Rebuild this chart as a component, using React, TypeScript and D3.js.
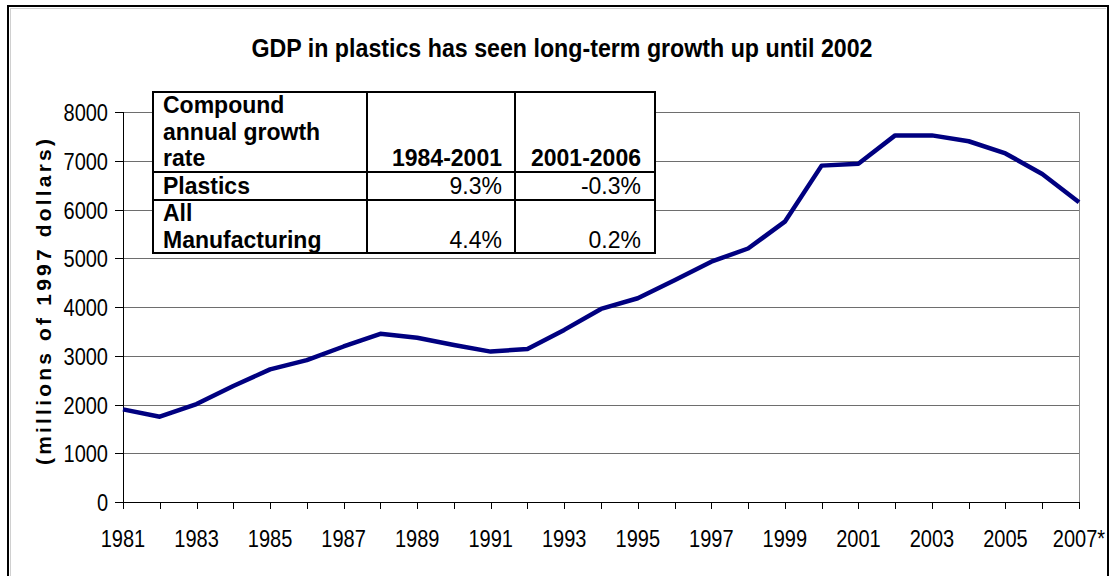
import React from "react";
import * as d3 from "d3";

const years = [1981,1982,1983,1984,1985,1986,1987,1988,1989,1990,1991,1992,1993,1994,1995,1996,1997,1998,1999,2000,2001,2002,2003,2004,2005,2006,2007];
const gdp = [1900,1750,2010,2380,2720,2910,3190,3450,3370,3220,3085,3140,3530,3960,4180,4550,4930,5200,5750,6900,6940,7520,7520,7400,7150,6730,6150];
const yTicks = [0,1000,2000,3000,4000,5000,6000,7000,8000];
const labelYears = [1981,1983,1985,1987,1989,1991,1993,1995,1997,1999,2001,2003,2005,2007];
const labelTexts = ["1981","1983","1985","1987","1989","1991","1993","1995","1997","1999","2001","2003","2005","2007*"];
const title = "GDP in plastics has seen long-term growth up until 2002";
const yTitle = "(millions of 1997 dollars)";
const headerLines = ["Compound", "annual growth", "rate"];
const periods = ["1984-2001", "2001-2006"];
const rowLabels = [["Plastics"], ["All", "Manufacturing"]];
const rowValues = [["9.3%", "-0.3%"], ["4.4%", "0.2%"]];

const FONT = "'Liberation Sans', Arial, sans-serif";

export default function App() {
  const W = 1114, H = 576;
  const x = d3.scaleLinear().domain([1981, 2007]).range([123, 1079]);
  const y = d3.scaleLinear().domain([0, 8000]).range([502, 112]);
  const line = d3.line<number>().x((_, i) => x(years[i])).y((d) => y(d));

  // table geometry
  const tL = 153, tC1 = 367, tC2 = 515, tR = 655;
  const tTop = 92, tH1 = 172, tH2 = 200, tBot = 253;

  const tx = (px: number, py: number, s: string, anchor: string, bold: boolean, size: number, sx: number, key?: any) => (
    <text key={key} transform={`translate(${px},${py}) scale(${sx},1)`} textAnchor={anchor} fontSize={size}
      fontWeight={bold ? "bold" : "normal"} fontFamily={FONT} fill="#000">{s}</text>
  );
  const TS = 23, TSX = 0.87; // tick labels
  const BS = 23, BSX = 1; // table text

  return (
    <svg width={W} height={H} style={{ position: "absolute", left: 0, top: 0, background: "#fff" }}>
      <rect x={0} y={0} width={W} height={H} fill="#fff" />
      {/* outer frame */}
      <line x1={10} y1={8.5} x2={1106} y2={8.5} stroke="#d0d0d0" strokeWidth={1} />
      <line x1={10.5} y1={8} x2={10.5} y2={H} stroke="#d0d0d0" strokeWidth={1} />
      <line x1={8} y1={5} x2={8} y2={H} stroke="#000" strokeWidth={2} />
      <line x1={7} y1={6} x2={1108} y2={6} stroke="#000" strokeWidth={2} />
      <line x1={1108} y1={5} x2={1108} y2={H} stroke="#000" strokeWidth={2} />

      {/* title */}
      <text x={562} y={57} textAnchor="middle" fontSize={25} fontWeight="bold" fontFamily={FONT}
        textLength={621} lengthAdjust="spacingAndGlyphs">{title}</text>

      {/* gridlines */}
      {yTicks.map((t) => (
        <line key={"g" + t} x1={123} x2={1079} y1={Math.round(y(t)) + 0.5} y2={Math.round(y(t)) + 0.5} stroke="#6e6e6e" strokeWidth={1} />
      ))}
      <line x1={1079.5} x2={1079.5} y1={y(8000)} y2={y(0)} stroke="#8a8a8a" strokeWidth={1} />

      {/* y axis */}
      <line x1={123.5} x2={123.5} y1={y(8000)} y2={y(0)} stroke="#000" strokeWidth={1} />
      {yTicks.map((t) => (
        <g key={"yt" + t}>
          <line x1={115} x2={123} y1={Math.round(y(t)) + 0.5} y2={Math.round(y(t)) + 0.5} stroke="#000" />
          {tx(108, y(t) + 9, String(t), "end", false, TS, TSX)}
        </g>
      ))}

      {/* x axis */}
      <line x1={123} x2={1080} y1={502.5} y2={502.5} stroke="#000" strokeWidth={1} />
      {years.map((yr) => (
        <line key={"xt" + yr} x1={Math.round(x(yr)) + 0.5} x2={Math.round(x(yr)) + 0.5} y1={502} y2={509} stroke="#000" />
      ))}
      {labelYears.map((yr, i) => tx(x(yr), 547, labelTexts[i], "middle", false, TS, TSX, "xl" + yr))}

      {/* y title */}
      <text transform={`translate(51,302) rotate(-90)`} textAnchor="middle" fontSize={21} fontWeight="bold"
        fontFamily={FONT} textLength={326} lengthAdjust="spacing">{yTitle}</text>

      {/* data line */}
      <path d={line(gdp) || ""} fill="none" stroke="#000080" strokeWidth={4.5} strokeLinejoin="round" />

      {/* table */}
      <rect x={tL} y={tTop} width={tR - tL} height={tBot - tTop} fill="#fff" stroke="#000" strokeWidth={2} />
      <line x1={tC1} x2={tC1} y1={tTop} y2={tBot} stroke="#000" strokeWidth={2} />
      <line x1={tC2} x2={tC2} y1={tTop} y2={tBot} stroke="#000" strokeWidth={2} />
      <line x1={tL} x2={tR} y1={tH1} y2={tH1} stroke="#000" strokeWidth={2} />
      <line x1={tL} x2={tR} y1={tH2} y2={tH2} stroke="#000" strokeWidth={2} />
      {headerLines.map((s, i) => tx(163, 113 + i * 26.5, s, "start", true, BS, BSX, "h" + i))}
      {tx(tC2 - 13, 166, periods[0], "end", true, BS, BSX, "p0")}
      {tx(tR - 14, 166, periods[1], "end", true, BS, BSX, "p1")}
      {rowLabels[0].map((s, i) => tx(163, 194 + i * 26.5, s, "start", true, BS, BSX, "r0" + i))}
      {rowLabels[1].map((s, i) => tx(163, 221 + i * 26.5, s, "start", true, BS, BSX, "r1" + i))}
      {tx(tC2 - 13, 194, rowValues[0][0], "end", false, BS, BSX, "v00")}
      {tx(tR - 14, 194, rowValues[0][1], "end", false, BS, BSX, "v01")}
      {tx(tC2 - 13, 247.5, rowValues[1][0], "end", false, BS, BSX, "v10")}
      {tx(tR - 14, 247.5, rowValues[1][1], "end", false, BS, BSX, "v11")}
    </svg>
  );
}
